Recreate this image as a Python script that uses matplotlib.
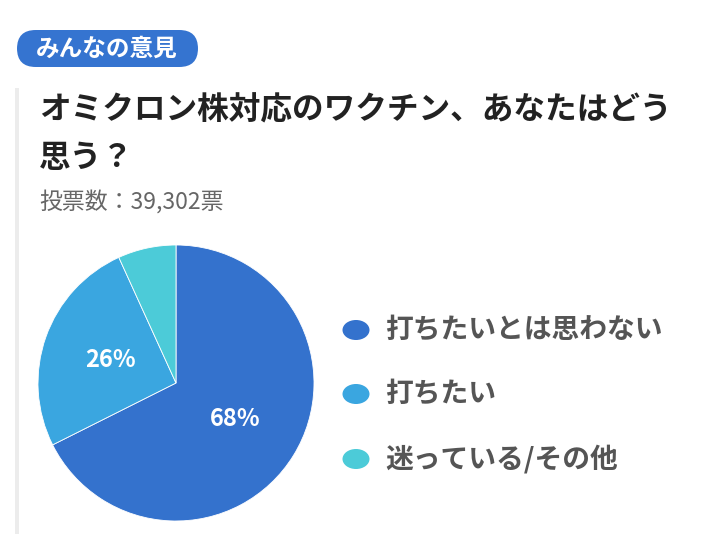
import matplotlib
matplotlib.use("Agg")
import matplotlib.pyplot as plt
from matplotlib.patches import FancyBboxPatch, Circle, Rectangle

plt.rcParams["font.family"] = ["Noto Sans CJK JP", "DejaVu Sans"]

# data (shares; labels show them rounded)
labels = ["打ちたいとは思わない", "打ちたい", "迷っている/その他"]
shares = [67.6, 25.6, 6.8]
colors = ["#3472cd", "#3aa6e0", "#4ccbd8"]
badge_text = "みんなの意見"
title_lines = ["オミクロン株対応のワクチン、あなたはどう", "思う？"]
votes_text = "投票数：39,302票"

W, H = 720, 534
fig = plt.figure(figsize=(W / 100, H / 100), dpi=100)
fig.patch.set_facecolor("white")


def fx(x):
    return x / W


def fy(y):
    return 1 - y / H


# badge
fig.patches.append(FancyBboxPatch((fx(17), fy(67)), fx(181), 37 / H,
                                  boxstyle="round,pad=0,rounding_size=0.026",
                                  transform=fig.transFigure, facecolor="#3574d0",
                                  edgecolor="none", mutation_aspect=W / H))
fig.text(fx(107), fy(49), badge_text, color="white", fontsize=17,
         fontweight="bold", ha="center", va="center")

# left grey rule
fig.patches.append(Rectangle((fx(15), 0), fx(4), fy(88), transform=fig.transFigure,
                             facecolor="#ececec", edgecolor="none"))

# title and vote count
fig.text(fx(39), fy(110), title_lines[0], color="#222222", fontsize=22.8,
         fontweight="bold", va="center", ha="left")
fig.text(fx(39), fy(158), title_lines[1], color="#222222", fontsize=22.8,
         fontweight="bold", va="center", ha="left")
fig.text(fx(39), fy(202), votes_text, color="#666666", fontsize=16.5,
         va="center", ha="left")

# pie
ax = fig.add_axes([fx(38), fy(521), fx(276), 276 / H])
ax.pie(shares, colors=colors, startangle=90, counterclock=False, radius=1,
       wedgeprops=dict(edgecolor="white", linewidth=0.6),
       autopct=lambda p: f"{p:.0f}%" if p > 10 else "", pctdistance=0.5,
       textprops=dict(color="white", fontsize=17, fontweight="bold"))
ax.set_xlim(-1, 1)
ax.set_ylim(-1, 1)
ax.set_aspect("equal")
ax.axis("off")

# legend
rows = [330, 394, 459]
for lab, col, y in zip(labels, colors, rows):
    fig.patches.append(Circle((fx(356), fy(y)), fx(13.5), transform=fig.transFigure,
                              facecolor=col, edgecolor="none"))
    fig.text(fx(385), fy(y), lab, color="#555555", fontsize=20,
             fontweight="bold", va="center", ha="left")

fig.savefig("out.png", dpi=100, facecolor="white")
